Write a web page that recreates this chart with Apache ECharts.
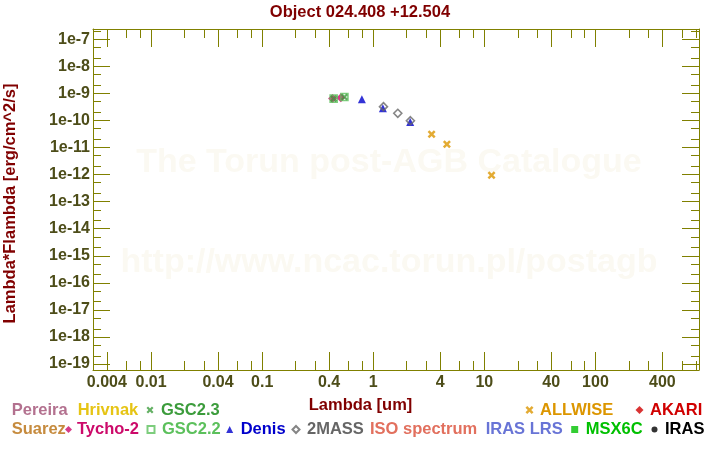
<!DOCTYPE html>
<html><head><meta charset="utf-8">
<script src="https://cdn.jsdelivr.net/npm/echarts@6/dist/echarts.min.js"></script>
<style>html,body{margin:0;padding:0;background:#fff}#c{width:720px;height:450px}</style>
</head><body><div id="c"></div>
<script>
// ---------------- data ----------------
const titleText = 'Object 024.408 +12.504';
const xAxisName = 'Lambda [um]';
const yAxisName = 'Lambda*Flambda [erg/cm^2/s]';
const xMin = 0.003, xMax = 855;
const yMin = 6e-20, yMax = 2.4e-7;
// labelled ticks
const xMajorTicks = [0.004, 0.01, 0.04, 0.1, 0.4, 1, 4, 10, 40, 100, 400];
const yMajorTicks = [1e-7, 1e-8, 1e-9, 1e-10, 1e-11, 1e-12, 1e-13, 1e-14, 1e-15, 1e-16, 1e-17, 1e-18, 1e-19];
// tick mantissas repeated in every decade
const xMajorMantissas = [1, 4];
const xMinorMantissas = [2, 3, 6, 8];
const yMajorMantissas = [1];
const yMinorMantissas = [2, 5];

const tycho2Lambda = [0.43, 0.51];
const tycho2Flux = [6.5e-10, 6.9e-10];
const gsc22Lambda = [0.44, 0.55];
const gsc22Flux = [6.4e-10, 7.4e-10];
const gsc23Lambda = [0.44, 0.55];
const gsc23Flux = [6.4e-10, 7.4e-10];
const denisLambda = [0.79, 1.22, 2.15];
const denisFlux = [6.05e-10, 2.85e-10, 8.8e-11];
const twomassLambda = [1.235, 1.662, 2.159];
const twomassFlux = [3.23e-10, 1.84e-10, 9.8e-11];
const allwiseLambda = [3.35, 4.6, 11.6];
const allwiseFlux = [3.08e-11, 1.32e-11, 9.4e-13];
const emptyLambda = [];
const emptyFlux = [];

const watermarkLines = ['The Torun post-AGB Catalogue', 'http://www.ncac.torun.pl/postagb'];

// ---------------- styling ----------------
const FONT = '"Liberation Sans", Arial, sans-serif';
const AX = '#808000';
const TICKTXT = '#4d4d19';
const MAROON = '#800000';
const XSYM = 'path://M0,2.2L2.2,0L5,2.8L7.8,0L10,2.2L7.2,5L10,7.8L7.8,10L5,7.2L2.2,10L0,7.8L2.8,5Z';

function pairs(xs, ys) { return xs.map((v, i) => [v, ys[i]]); }

const seriesDefs = [
  {name: 'Pereira', color: '#b3718f', symbol: 'circle', size: 6, data: pairs(emptyLambda, emptyFlux)},
  {name: 'Hrivnak', color: '#e6c414', symbol: 'circle', size: 6, data: pairs(emptyLambda, emptyFlux)},
  {name: 'Suarez', color: '#c68b3e', symbol: 'circle', size: 6, data: pairs(emptyLambda, emptyFlux)},
  {name: 'ISO spectrum', color: '#e2705e', symbol: 'circle', size: 6, data: pairs(emptyLambda, emptyFlux)},
  {name: 'IRAS LRS', color: '#6874d6', symbol: 'circle', size: 6, data: pairs(emptyLambda, emptyFlux)},
  {name: 'AKARI', color: '#d00000', symbol: 'diamond', size: 8, data: pairs(emptyLambda, emptyFlux)},
  {name: 'MSX6C', color: '#00c000', symbol: 'rect', size: 7, data: pairs(emptyLambda, emptyFlux)},
  {name: 'IRAS', color: '#000000', symbol: 'circle', size: 6, data: pairs(emptyLambda, emptyFlux)},
  {name: 'Tycho-2', color: '#cc0a6a', symbol: 'diamond', size: 9, data: pairs(tycho2Lambda, tycho2Flux)},
  {name: 'GSC2.2', color: '#5cc05c', symbol: 'rect', size: 7, hollow: true, data: pairs(gsc22Lambda, gsc22Flux)},
  {name: 'GSC2.3', color: '#3c9c3c', symbol: XSYM, size: 7, data: pairs(gsc23Lambda, gsc23Flux)},
  {name: 'Denis', color: '#0000cc', symbol: 'triangle', size: 8, data: pairs(denisLambda, denisFlux)},
  {name: '2MASS', color: '#666666', symbol: 'diamond', size: 8, hollow: true, data: pairs(twomassLambda, twomassFlux)},
  {name: 'ALLWISE', color: '#dc9600', symbol: XSYM, size: 8, data: pairs(allwiseLambda, allwiseFlux)}
];

// legend layout: name, left, top, text-only?, icon size, text pad
const legendLayout = [
  ['Pereira', 6.7, 401, true, 0, 0],
  ['Hrivnak', 72.7, 401, true, 0, 0],
  ['GSC2.3', 146.5, 401, false, 7, 2.5],
  ['ALLWISE', 525.5, 401, false, 8, 1.5],
  ['AKARI', 635.5, 401, false, 8, 1.5],
  ['Suarez', 6.7, 420.5, true, 0, 0],
  ['Tycho-2', 65, 420.5, false, 7, 0],
  ['GSC2.2', 146.5, 420.5, false, 7, 2.5],
  ['Denis', 226.2, 420.5, false, 7, 2.5],
  ['2MASS', 291.5, 420.5, false, 7, 2.5],
  ['ISO spectrum', 365, 420.5, true, 0, 0],
  ['IRAS LRS', 480.7, 420.5, true, 0, 0],
  ['MSX6C', 571.2, 420.5, false, 7, 2.5],
  ['IRAS', 651.5, 420.5, false, 6, 2.5]
];

const L10 = Math.log10;
function hidden() { return {splitLine: {show: false}, minorTick: {show: false}, minorSplitLine: {show: false}}; }
// log axes carry the data and the labels
function xLogAx(pos, extra) {
  return Object.assign({
    type: 'log', logBase: 10, min: xMin, max: xMax, position: pos, gridIndex: 0,
    axisLine: {show: true, onZero: false, lineStyle: {color: AX, width: 1}},
    axisTick: {show: false},
    axisLabel: {show: pos === 'bottom', customValues: xMajorTicks, margin: 4, color: TICKTXT, fontSize: 16, fontWeight: 'bold', fontFamily: FONT, lineHeight: 18,
      formatter: v => String(+Number(v).toPrecision(4))}
  }, hidden(), extra || {});
}
function yLogAx(pos, extra) {
  return Object.assign({
    type: 'log', logBase: 10, min: yMin, max: yMax, position: pos, gridIndex: 0,
    axisLine: {show: true, onZero: false, lineStyle: {color: AX, width: 1}},
    axisTick: {show: false},
    axisLabel: {show: pos === 'left', customValues: yMajorTicks, margin: 3, color: TICKTXT, fontSize: 16, fontWeight: 'bold', fontFamily: FONT,
      formatter: v => '1e' + Math.round(Math.log10(v))}
  }, hidden(), extra || {});
}
// tick-only axes: ticks at mantissa * 10^n, using a log10 scale shifted by log10(mantissa)
// so that the integer ticks land on those values; same extent as the log axis.
function tickAx(dim, pos, mantissa, len) {
  const s = L10(mantissa);
  const lo = (dim === 'x' ? L10(xMin) : L10(yMin)) - s;
  const hi = (dim === 'x' ? L10(xMax) : L10(yMax)) - s;
  return Object.assign({
    type: 'value', min: lo, max: hi, position: pos, gridIndex: 0,
    minInterval: 1, maxInterval: 1, splitNumber: 6,
    axisLine: {show: false, onZero: false},
    axisTick: {show: true, inside: true, length: len, lineStyle: {color: AX, width: 1}},
    axisLabel: {show: false}
  }, hidden());
}
function tickAxes(dim, majors, minors, majLen, minLen) {
  const sides = dim === 'x' ? ['bottom', 'top'] : ['left', 'right'];
  const out = [];
  sides.forEach(p => {
    majors.forEach(m => out.push(tickAx(dim, p, m, majLen)));
    minors.forEach(m => out.push(tickAx(dim, p, m, minLen)));
  });
  return out;
}

const nameStyle = {color: MAROON, fontSize: 16.5, fontWeight: 'bold', fontFamily: FONT, lineHeight: 18};

const option = {
  animation: false,
  backgroundColor: '#ffffff',
  title: {text: titleText, left: 'center', top: 3, padding: 0,
    textStyle: {color: MAROON, fontSize: 16.5, fontWeight: 'bold', fontFamily: FONT, lineHeight: 18}},
  grid: {left: 93, right: 21, top: 29, bottom: 80, containLabel: false, outerBoundsMode: 'none'},
  xAxis: [
    xLogAx('bottom', {name: xAxisName, nameLocation: 'middle', nameGap: 25,
      nameTextStyle: Object.assign({}, nameStyle, {padding: [0, 71, 0, 0]})}),
    xLogAx('top')
  ].concat(tickAxes('x', xMajorMantissas, xMinorMantissas, 18, 9)),
  yAxis: [
    yLogAx('left', {name: yAxisName, nameLocation: 'middle', nameGap: 74,
      nameTextStyle: Object.assign({}, nameStyle, {padding: [0, 8, 0, 0]})}),
    yLogAx('right')
  ].concat(tickAxes('y', yMajorMantissas, yMinorMantissas, 17, 8)),
  legend: legendLayout.map(([name, left, top, textOnly, sz, pad]) => {
    const def = seriesDefs.find(s => s.name === name);
    return {
      data: [textOnly ? {name: name, icon: 'none'} : {name: name}],
      left: left, top: top, padding: 0, orient: 'horizontal',
      itemWidth: sz, itemHeight: textOnly ? 7 : sz, selectedMode: false,
      textStyle: {color: def.color, fontSize: 16.5, fontWeight: 'bold', fontFamily: FONT, lineHeight: 18, padding: [0, 0, 0, pad]}
    };
  }),
  graphic: watermarkLines.map((t, i) => ({
    type: 'text', x: 389, y: i === 0 ? 163 : 263, z: -10, silent: true,
    style: {text: t, font: 'bold 34px ' + FONT, fill: '#fbf9f2', align: 'center', verticalAlign: 'middle'}
  })),
  series: seriesDefs.map(s => ({
    type: 'scatter', name: s.name, xAxisIndex: 0, yAxisIndex: 0,
    symbol: s.symbol, symbolSize: s.size, data: s.data,
    itemStyle: s.hollow ? {color: 'rgba(255,255,255,0)', borderColor: s.color, borderWidth: 1.6} : {color: s.color},
    emphasis: {disabled: true}
  }))
};

const chart = echarts.init(document.getElementById('c'), null, {renderer: 'canvas'});
chart.setOption(option);
</script>
</body></html>
